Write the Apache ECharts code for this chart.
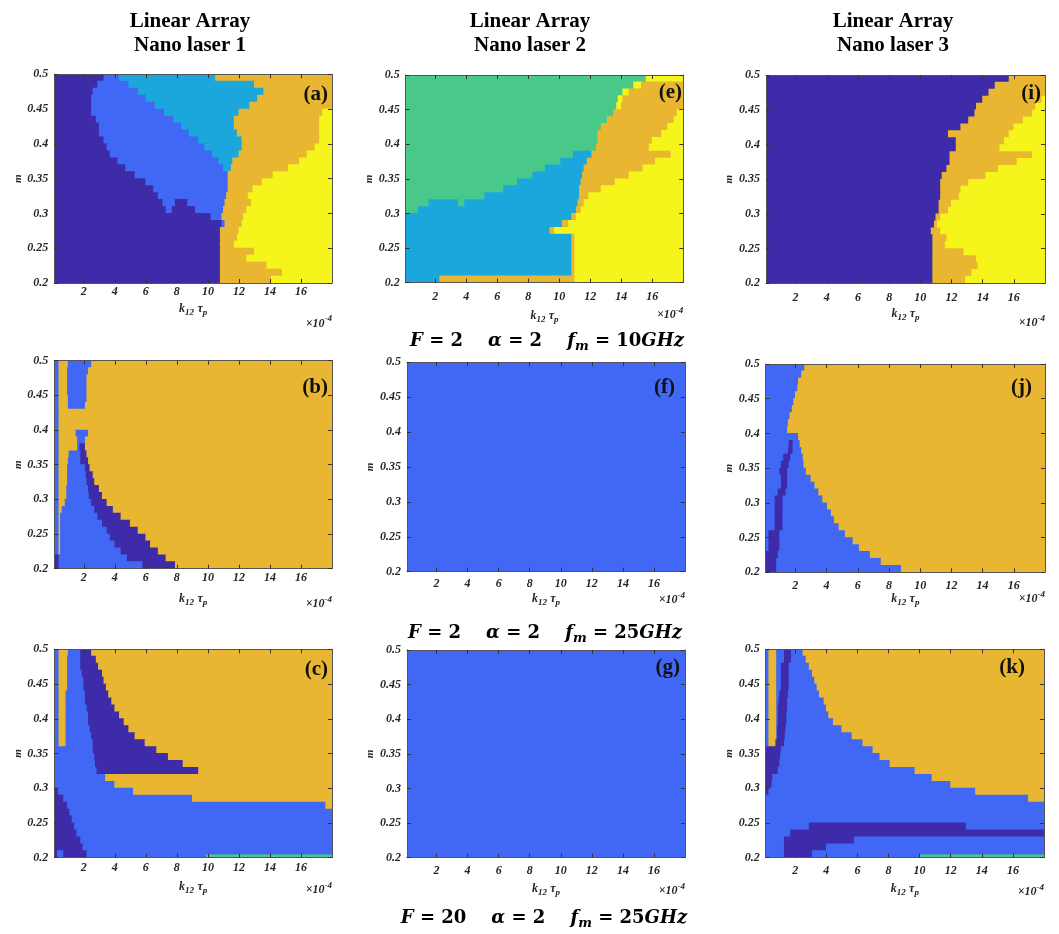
<!DOCTYPE html>
<html>
<head>
<meta charset="utf-8">
<script src="https://cdn.jsdelivr.net/npm/echarts@6/dist/echarts.min.js"></script>
<style>
  html, body { margin: 0; background: #fff; }
  #chart { width: 1059px; height: 934px; }
</style>
</head>
<body>
<div id="chart"></div>
<script>
// region classes: D dark blue, B blue, C cyan, G green, O orange, Y yellow
const CLASSES = 'DBCGOY';
const COLORS = ['#3d2ba9', '#4068f5', '#1ca7dc', '#48c98a', '#e8b631', '#f5f51c'];

const X_TICKS = [2, 4, 6, 8, 10, 12, 14, 16];
const X_MIN = 0.1, X_MAX = 18;
const M_MIN = 0.2, M_MAX = 0.5;

// each string is one row of m (top row first), "D3.3" = class D up to k12*tau_p = 3.3 (x1e-4)
const panelA = [
  'D3.3 B4.3 C10.5 O18',
  'D2.9 B4.9 C13.0 O18',
  'D2.6 B5.5 C13.6 O18',
  'D2.5 B6.0 C13.2 O18',
  'D2.5 B6.6 C12.7 O18',
  'D2.5 B7.2 C12.0 O17.4 Y18',
  'D2.8 B7.8 C11.7 O17.2 Y18',
  'D3.0 B8.3 C11.7 O17.2 Y18',
  'D3.0 B8.8 C11.9 O17.2 Y18',
  'D3.3 B9.4 C12.2 O17.2 Y18',
  'D3.5 B9.8 C12.2 O16.9 Y18',
  'D3.7 B10.3 C12.0 O16.4 Y18',
  'D4.2 B10.7 C11.6 O15.9 Y18',
  'D4.7 B11.0 C11.5 O15.2 Y18',
  'D5.3 B11.3 O14.2 Y18',
  'D6.0 B11.3 O13.5 Y18',
  'D6.5 B11.3 O12.9 Y18',
  'D6.8 B11.2 O12.6 Y18',
  'D7.1 B7.9 D8.7 B11.1 O12.8 Y18',
  'D7.3 B7.7 D9.2 B11.0 O12.5 Y18',
  'D10.2 B10.9 O12.3 Y18',
  'D10.9 B11.1 O12.2 Y18',
  'D10.8 O12.0 Y18',
  'D10.8 O11.9 Y18',
  'D10.8 O11.7 Y18',
  'D10.8 O13.0 Y18',
  'D10.8 O12.5 Y18',
  'D10.8 O13.8 Y18',
  'D10.8 O14.8 Y18',
  'D10.8 O14.1 Y18'
];

const panelE = [
  'G15.6 Y18',
  'G14.8 Y15.3 O18',
  'G14.1 Y14.5 O18',
  'G13.8 Y14.1 O18',
  'G13.7 Y14.0 O18',
  'G13.5 O17.6 Y18',
  'G13.1 O17.4 Y18',
  'G12.7 O17.0 Y18',
  'G12.5 O16.6 Y18',
  'G12.5 O16.0 Y18',
  'G12.4 O15.8 Y18',
  'G10.9 C12.1 O17.2 Y18',
  'G10.1 C11.8 O16.2 Y18',
  'G9.1 C11.6 O15.4 Y18',
  'G8.3 C11.5 O14.5 Y18',
  'G7.3 C11.4 O13.6 Y18',
  'G6.4 C11.3 O12.7 Y18',
  'G5.2 C11.3 O11.9 Y18',
  'G1.6 C3.5 G3.9 C11.2 O11.6 Y18',
  'G0.9 C11.1 O11.4 Y18',
  'C10.8 O11.1 Y18',
  'C10.2 O10.6 Y18',
  'C9.4 O9.7 Y18',
  'C10.8 O11.0 Y18',
  'C10.8 O11.0 Y18',
  'C10.8 O11.0 Y18',
  'C10.8 O11.0 Y18',
  'C10.8 O11.0 Y18',
  'C10.8 O11.0 Y18',
  'C2.3 O11.0 Y18'
];

const panelI = [
  'D15.7 O18',
  'D14.8 O18',
  'D14.4 O18',
  'D14.0 O17.8 Y18',
  'D13.6 O17.4 Y18',
  'D13.5 O17.2 Y18',
  'D13.1 O16.6 Y18',
  'D12.6 O16.0 Y18',
  'D11.8 O15.7 Y18',
  'D12.3 O15.4 Y18',
  'D12.3 O15.1 Y18',
  'D11.9 O17.2 Y18',
  'D11.9 O16.2 Y18',
  'D11.7 O15.0 Y18',
  'D11.4 O14.2 Y18',
  'D11.3 O13.1 Y18',
  'D11.3 O12.6 Y18',
  'D11.3 O12.5 Y18',
  'D11.2 O12.0 Y18',
  'D11.2 O11.8 Y18',
  'D11.0 O11.3 Y18',
  'D10.9 O11.1 Y18',
  'D10.7 O11.3 Y18',
  'D10.8 O11.7 Y18',
  'D10.8 O11.6 Y18',
  'D10.8 O12.8 Y18',
  'D10.8 O13.6 Y18',
  'D10.8 O13.7 Y18',
  'D10.8 O13.3 Y18',
  'D10.8 O12.9 Y18'
];

const panelB = [
  'B0.4 O1.0 B2.5 O18',
  'B0.4 O0.95 B2.3 O18',
  'B0.4 O0.95 B2.2 O18',
  'B0.4 O0.95 B2.2 O18',
  'B0.4 O0.95 B2.2 O18',
  'B0.4 O1.0 B2.2 O18',
  'B0.4 O1.0 B2.1 O18',
  'B0.4 O18',
  'B0.4 O18',
  'B0.4 O18',
  'B0.4 O1.5 B2.3 O18',
  'B0.4 O1.6 B2.1 O18',
  'B0.4 O1.6 B1.75 D2.1 O18',
  'B0.4 O1.05 B1.8 D2.2 O18',
  'B0.4 O1.0 B1.8 D2.3 O18',
  'B0.4 O0.95 B2.1 D2.4 O18',
  'B0.4 O0.95 B2.15 D2.6 O18',
  'B0.4 O0.95 B2.2 D2.7 O18',
  'B0.4 O0.9 B2.3 D3.0 O18',
  'B0.4 O0.9 B2.35 D3.2 O18',
  'B0.4 O0.8 B2.5 D3.5 O18',
  'B0.4 O0.6 B2.7 D3.9 O18',
  'B0.4 O0.5 B2.9 D4.4 O18',
  'B0.4 O0.5 B3.2 D5.0 O18',
  'B0.4 O0.5 B3.5 D5.5 O18',
  'B0.4 O0.5 B3.7 D6.0 O18',
  'B0.4 O0.5 B4.0 D6.3 O18',
  'B0.4 O0.5 B4.4 D6.8 O18',
  'D0.4 B4.8 D7.3 O18',
  'D0.4 B5.8 D7.9 O18'
];

const panelF = ['B18'];

const panelJ = [
  'B2.6 O18',
  'B2.4 O18',
  'B2.2 O18',
  'B2.15 O18',
  'B2.0 O18',
  'B1.9 O18',
  'B1.8 O18',
  'B1.65 O18',
  'B1.55 O18',
  'B1.5 O18',
  'B2.2 O18',
  'B1.6 D1.85 B2.3 O18',
  'B1.55 D1.85 B2.4 O18',
  'B1.25 D1.7 B2.5 O18',
  'B1.1 D1.6 B2.55 O18',
  'B1.0 D1.5 B2.7 O18',
  'B1.1 D1.5 B3.0 O18',
  'B1.1 D1.5 B3.25 O18',
  'B0.9 D1.4 B3.5 O18',
  'B0.7 D1.2 B3.75 O18',
  'B0.7 D1.2 B4.05 O18',
  'B0.7 D1.2 B4.3 O18',
  'B0.7 D1.2 B4.5 O18',
  'B0.7 D1.2 B4.8 O18',
  'B0.3 D1.0 B5.2 O18',
  'B0.3 D1.0 B5.7 O18',
  'B0.3 D1.0 B6.1 O18',
  'D0.9 B6.8 O18',
  'D0.8 B7.5 O18',
  'D0.8 B8.8 O18'
];

const panelC = [
  'B0.4 O1.0 B1.8 D2.5 O18',
  'B0.4 O0.95 B1.8 D2.8 O18',
  'B0.4 O0.95 B1.8 D2.95 O18',
  'B0.4 O0.95 B1.9 D3.2 O18',
  'B0.4 O0.95 B2.0 D3.3 O18',
  'B0.4 O0.95 B2.0 D3.45 O18',
  'B0.4 O0.85 B2.1 D3.6 O18',
  'B0.4 O0.85 B2.1 D3.8 O18',
  'B0.4 O0.85 B2.2 D4.0 O18',
  'B0.4 O0.85 B2.3 D4.3 O18',
  'B0.4 O0.85 B2.3 D4.6 O18',
  'B0.4 O0.85 B2.4 D4.9 O18',
  'B0.4 O0.85 B2.5 D5.3 O18',
  'B0.4 O0.85 B2.6 D5.95 O18',
  'B2.6 D6.7 O18',
  'B2.7 D7.45 O18',
  'B2.75 D8.4 O18',
  'B2.85 D9.4 O18',
  'B3.4 O18',
  'B4.0 O18',
  'D0.35 B5.2 O18',
  'D0.7 B9.0 O18',
  'D0.95 B17.6 O18',
  'D1.1 B18',
  'D1.25 B18',
  'D1.4 B18',
  'D1.55 B18',
  'D1.8 B18',
  'D1.95 B18',
  'D0.3 B0.7 D2.2 B18'
];
// thin strips: [class, x0, x1, m0, m1]
const stripsC = [['G', 9.9, 18, 0.2, 0.204]];

const panelG = ['B18'];

const panelK = [
  'B0.3 O0.8 B1.3 D1.75 B2.5 O18',
  'B0.3 O0.8 B1.3 D1.75 B2.7 O18',
  'B0.3 O0.8 B1.1 D1.6 B2.9 O18',
  'B0.3 O0.8 B1.1 D1.6 B3.1 O18',
  'B0.3 O0.8 B1.1 D1.6 B3.25 O18',
  'B0.3 O0.8 B1.1 D1.6 B3.4 O18',
  'B0.3 O0.8 B1.0 D1.55 B3.55 O18',
  'B0.3 O0.8 B0.95 D1.5 B3.85 O18',
  'B0.3 O0.8 B0.9 D1.5 B4.0 O18',
  'B0.3 O0.8 B0.9 D1.45 B4.15 O18',
  'B0.3 O0.8 B0.9 D1.45 B4.45 O18',
  'B0.3 O0.8 B0.85 D1.4 B5.0 O18',
  'B0.3 O0.8 B0.85 D1.35 B5.65 O18',
  'B0.3 O0.75 D1.3 B6.35 O18',
  'D1.1 B7.0 O18',
  'D1.05 B7.45 O18',
  'D1.0 B8.1 O18',
  'D0.9 B9.7 O18',
  'D0.55 B10.8 O18',
  'D0.5 B12.0 O18',
  'D0.3 B13.6 O18',
  'B17.0 O18',
  'B18',
  'B18',
  'B18',
  'B2.9 D13.0 B18',
  'B1.7 D18',
  'B1.3 D5.8 B18',
  'B1.3 D4.0 B18',
  'B1.3 D3.1 B18'
];
const stripsK = [['G', 10.0, 18, 0.2, 0.204]];

const panelTags = ['(a)', '(e)', '(i)', '(b)', '(f)', '(j)', '(c)', '(g)', '(k)'];
const columnTitles = ['Linear Array\nNano laser 1', 'Linear Array\nNano laser 2', 'Linear Array\nNano laser 3'];
const conditionLabels = [
  ['2', '2', '10'],
  ['2', '2', '25'],
  ['20', '2', '25']
];

const panelData = [
  [panelA, []], [panelE, []], [panelI, []],
  [panelB, []], [panelF, []], [panelJ, []],
  [panelC, stripsC], [panelG, []], [panelK, stripsK]
];

// plot boxes [left, top, right, bottom], tick label margin, name centre, x10 centre, tag pos
const layout = [
  { box: [54.3, 74.3, 332, 283], lm: 2.5, nc: 25, tc: 39, tag: [328, 95] },
  { box: [405.7, 75, 683.3, 282.7], lm: 8, nc: 32, tc: 31, tag: [682, 93] },
  { box: [766, 75.3, 1045, 283.3], lm: 9, nc: 30, tc: 38, tag: [1041, 94] },
  { box: [54.3, 360.7, 332, 568.7], lm: 3, nc: 29, tc: 34, tag: [328, 388] },
  { box: [407, 362.3, 685, 571.7], lm: 6, nc: 26, tc: 27, tag: [675, 388] },
  { box: [765.7, 364, 1045, 572.3], lm: 8, nc: 24, tc: 25, tag: [1032, 388] },
  { box: [54.3, 649.3, 332, 857.7], lm: 4, nc: 28, tc: 31, tag: [328, 670] },
  { box: [407, 650, 685, 857.7], lm: 7, nc: 30, tc: 32, tag: [680, 668] },
  { box: [765.7, 649.3, 1044, 857.7], lm: 7.5, nc: 30, tc: 33, tag: [1025, 668] }
];

function toCells(rows, strips) {
  const step = (M_MAX - M_MIN) / rows.length;
  const cells = [];
  rows.forEach((row, r) => {
    const m1 = M_MAX - r * step;
    const m0 = m1 - step;
    let x0 = 0;
    row.split(' ').forEach(tok => {
      const x1 = parseFloat(tok.slice(1));
      cells.push([x0, x1, m0, m1, CLASSES.indexOf(tok[0])]);
      x0 = x1;
    });
  });
  strips.forEach(s => cells.push([s[1], s[2], s[3], s[4], CLASSES.indexOf(s[0])]));
  return cells;
}

const SERIF = 'Liberation Serif';
const tickFont = { fontFamily: SERIF, fontStyle: 'italic', fontWeight: 'bold', fontSize: 12, color: '#262626' };
const boxLine = { show: true, onZero: false, lineStyle: { color: '#555', width: 1 } };
const tickStyle = { show: true, inside: true, length: 4, lineStyle: { color: '#333', width: 1 } };

const grid = [], xAxis = [], yAxis = [], series = [], graphic = [];

layout.forEach((p, i) => {
  const [l, t, r, b] = p.box;
  grid.push({ left: l, top: t, width: r - l, height: b - t, show: false });

  xAxis.push({
    type: 'value', gridIndex: i, min: X_MIN, max: X_MAX, position: 'bottom', z: 5,
    axisLine: boxLine,
    axisTick: Object.assign({ customValues: X_TICKS }, tickStyle),
    axisLabel: Object.assign({ customValues: X_TICKS, margin: p.lm }, tickFont),
    splitLine: { show: false },
    name: '{i|k}{s|12} {i|τ}{s|p}', nameLocation: 'middle', nameGap: p.nc - 7,
    nameTextStyle: {
      rich: {
        i: { fontFamily: SERIF, fontStyle: 'italic', fontWeight: 'bold', fontSize: 12, color: '#262626', lineHeight: 16 },
        s: { fontFamily: SERIF, fontStyle: 'italic', fontWeight: 'bold', fontSize: 9, color: '#262626', lineHeight: 9, verticalAlign: 'bottom' }
      }
    }
  });
  xAxis.push({
    type: 'value', gridIndex: i, min: X_MIN, max: X_MAX, position: 'top', z: 5,
    axisLine: boxLine,
    axisTick: Object.assign({ customValues: X_TICKS }, tickStyle),
    axisLabel: { show: false },
    splitLine: { show: false }
  });
  yAxis.push({
    type: 'value', gridIndex: i, min: M_MIN, max: M_MAX, interval: 0.05, position: 'left', z: 5,
    axisLine: boxLine,
    axisTick: tickStyle,
    axisLabel: Object.assign({ margin: 6 }, tickFont),
    splitLine: { show: false },
    name: 'm', nameLocation: 'middle', nameGap: 29, nameRotate: 90,
    nameTextStyle: { fontFamily: SERIF, fontStyle: 'italic', fontWeight: 'bold', fontSize: 11, color: '#262626' }
  });
  yAxis.push({
    type: 'value', gridIndex: i, min: M_MIN, max: M_MAX, interval: 0.05, position: 'right', z: 5,
    axisLine: boxLine,
    axisTick: tickStyle,
    axisLabel: { show: false },
    splitLine: { show: false }
  });

  series.push({
    type: 'custom',
    xAxisIndex: 2 * i,
    yAxisIndex: 2 * i,
    clip: true,
    silent: true,
    data: toCells(panelData[i][0], panelData[i][1]),
    renderItem: (params, api) => {
      const a = api.coord([api.value(0), api.value(3)]);
      const c = api.coord([api.value(1), api.value(2)]);
      return {
        type: 'rect',
        shape: { x: a[0] - 0.4, y: a[1] - 0.4, width: c[0] - a[0] + 0.8, height: c[1] - a[1] + 0.8 },
        style: { fill: COLORS[api.value(4)] }
      };
    }
  });

  graphic.push({
    type: 'text', z: 20,
    style: { text: panelTags[i], x: p.tag[0], y: p.tag[1], align: 'right', verticalAlign: 'middle',
      fontFamily: SERIF, fontWeight: 'bold', fontSize: 21, fill: '#111' }
  });
  graphic.push({
    type: 'text', z: 20,
    style: {
      text: '{a|×10}{b|-4}', x: r, y: b + p.tc, align: 'right', verticalAlign: 'middle',
      rich: {
        a: { fontFamily: SERIF, fontStyle: 'italic', fontWeight: 'bold', fontSize: 12, fill: '#262626', lineHeight: 15, verticalAlign: 'bottom' },
        b: { fontFamily: SERIF, fontStyle: 'italic', fontWeight: 'bold', fontSize: 9, fill: '#262626', lineHeight: 9, verticalAlign: 'top' }
      }
    }
  });
});

const titleX = [190, 530, 893];
columnTitles.forEach((txt, c) => {
  graphic.push({
    type: 'text',
    style: { text: txt, x: titleX[c], y: 34, align: 'center', verticalAlign: 'middle',
      fontFamily: SERIF, fontWeight: 'bold', fontSize: 21, lineHeight: 24, fill: '#000' }
  });
});

const condPos = [[547, 341], [545, 633], [544, 918]];
const MATH = 'DejaVu Serif';
conditionLabels.forEach((v, k) => {
  graphic.push({
    type: 'text',
    style: {
      text: '{v|F}{n| = ' + v[0] + '    }{v|α}{n| = ' + v[1] + '    }{v|f}{s|m}{n| = ' + v[2] + '}{v|GHz}',
      x: condPos[k][0], y: condPos[k][1], align: 'center', verticalAlign: 'middle',
      rich: {
        v: { fontFamily: MATH, fontStyle: 'italic', fontWeight: 'bold', fontSize: 18, fill: '#000', lineHeight: 24 },
        n: { fontFamily: MATH, fontWeight: 'bold', fontSize: 18, fill: '#000', lineHeight: 24 },
        s: { fontFamily: MATH, fontStyle: 'italic', fontWeight: 'bold', fontSize: 13, fill: '#000', lineHeight: 13, verticalAlign: 'bottom' }
      }
    }
  });
});

const chart = echarts.init(document.getElementById('chart'));
chart.setOption({
  backgroundColor: '#fff',
  animation: false,
  grid: grid,
  xAxis: xAxis,
  yAxis: yAxis,
  series: series,
  graphic: graphic
});
</script>
</body>
</html>
